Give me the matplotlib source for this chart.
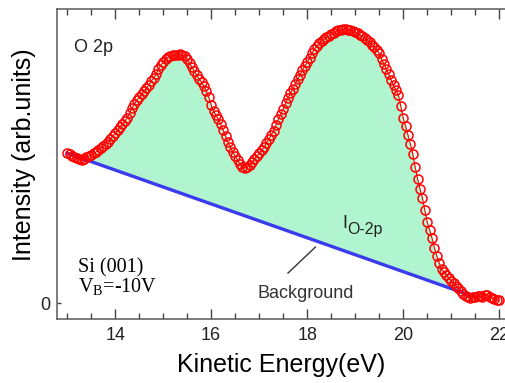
import numpy as np
import matplotlib
matplotlib.use("Agg")
import matplotlib.pyplot as plt
from matplotlib.ticker import MultipleLocator

plt.rcParams['font.family'] = ['Liberation Sans', 'DejaVu Sans']

# kinetic energy grid (eV), one point every 0.05 eV from 13 to 22
energy = np.round(np.arange(13.0, 22.0001, 0.05), 2)

intensity = [
    1.50, 1.49, 1.47, 1.46, 1.45, 1.44, 1.43, 1.44, 1.46, 1.47,
    1.48, 1.50, 1.51, 1.53, 1.55, 1.57, 1.59, 1.61, 1.64, 1.67,
    1.70, 1.73, 1.76, 1.79, 1.82, 1.85, 1.90, 1.95, 1.99, 2.03,
    2.06, 2.09, 2.12, 2.15, 2.18, 2.22, 2.25, 2.29, 2.34, 2.38,
    2.41, 2.44, 2.46, 2.47, 2.48, 2.48, 2.48, 2.49, 2.48, 2.47,
    2.44, 2.40, 2.36, 2.32, 2.28, 2.24, 2.21, 2.17, 2.12, 2.06,
    1.98, 1.92, 1.88, 1.84, 1.79, 1.73, 1.67, 1.61, 1.56, 1.51,
    1.47, 1.43, 1.39, 1.36, 1.35, 1.36, 1.38, 1.41, 1.44, 1.47,
    1.50, 1.53, 1.56, 1.60, 1.64, 1.68, 1.72, 1.78, 1.84, 1.89,
    1.94, 2.00, 2.05, 2.10, 2.14, 2.19, 2.24, 2.28, 2.33, 2.37,
    2.41, 2.45, 2.50, 2.54, 2.57, 2.60, 2.62, 2.64, 2.66, 2.67,
    2.69, 2.70, 2.72, 2.73, 2.73, 2.74, 2.74, 2.73, 2.73, 2.72,
    2.71, 2.70, 2.68, 2.67, 2.65, 2.63, 2.61, 2.58, 2.56, 2.53,
    2.50, 2.44, 2.39, 2.34, 2.29, 2.23, 2.18, 2.13, 2.08, 1.97,
    1.85, 1.77, 1.68, 1.59, 1.49, 1.36, 1.24, 1.14, 1.05, 0.93,
    0.81, 0.73, 0.65, 0.55, 0.47, 0.40, 0.34, 0.31, 0.28, 0.25,
    0.22, 0.20, 0.17, 0.15, 0.12, 0.09, 0.07, 0.06, 0.05, 0.06,
    0.06, 0.07, 0.07, 0.06, 0.08, 0.08, 0.06, 0.05, 0.04, 0.03,
    0.03,
]
intensity = np.array(intensity)

# linear background (two end points)
bg_energy = [13.0, 21.5]
bg_level = [1.50, 0.06]

xticks = [14, 16, 18, 20, 22]

fig = plt.figure(figsize=(5.05, 3.83), dpi=100)
ax = fig.add_axes([0.113, 0.167, 0.887, 0.809])

# shaded O 2p area between data and background
mask = energy <= bg_energy[1]
bg_interp = np.interp(energy[mask], bg_energy, bg_level)
ax.fill_between(energy[mask], bg_interp, intensity[mask],
                color='#b0f5cf', lw=0, zorder=1)

ax.plot(bg_energy, bg_level, color='#3a3aee', lw=2.4, zorder=3)
ax.plot(energy, intensity, color='red', lw=0.8, marker='o', ms=6.5,
        mfc='none', mec='red', mew=1.1, zorder=4)

ax.set_xlim(12.79, 22.12)
ax.set_ylim(-0.16, 2.94)

ax.set_xticks(xticks)
ax.xaxis.set_minor_locator(MultipleLocator(0.5))
ax.set_yticks([0])
ax.tick_params(axis='x', which='both', direction='in', top=True,
               color='#444444', labelsize=13, labelcolor='#222222', pad=6)
ax.tick_params(axis='x', which='major', length=7, width=1)
ax.tick_params(axis='x', which='minor', length=4, width=1)
ax.tick_params(axis='y', direction='in', length=3, width=1, color='#444444',
               labelsize=13, labelcolor='#222222', pad=5)
for side in ['left', 'bottom', 'top']:
    ax.spines[side].set_color('#666666')
    ax.spines[side].set_linewidth(1.2)
ax.spines['right'].set_visible(False)

ax.set_xlabel('Kinetic Energy(eV)', fontsize=18, labelpad=6)
ax.set_ylabel('Intensity (arb.units)', fontsize=18, labelpad=8)
ax.yaxis.set_label_coords(-0.046, 0.53)

ax.text(13.15, 2.51, 'O 2p', fontsize=13, color='#222222')
ax.text(13.23, 0.31, 'Si (001)', fontsize=14.5, family='Liberation Serif')
ax.text(13.23, 0.10, r'V$_\mathregular{B}$=-10V', fontsize=14.5,
        family='Liberation Serif')
ax.text(18.73, 0.75, 'I', fontsize=13, color='#222222')
ax.text(18.84, 0.69, 'O-2p', fontsize=11.5, color='#222222')
ax.text(16.96, 0.05, 'Background', fontsize=13, color='#333333')
ax.plot([17.60, 18.17], [0.30, 0.56], color='#333333', lw=1)

fig.savefig('out.png', dpi=100)
